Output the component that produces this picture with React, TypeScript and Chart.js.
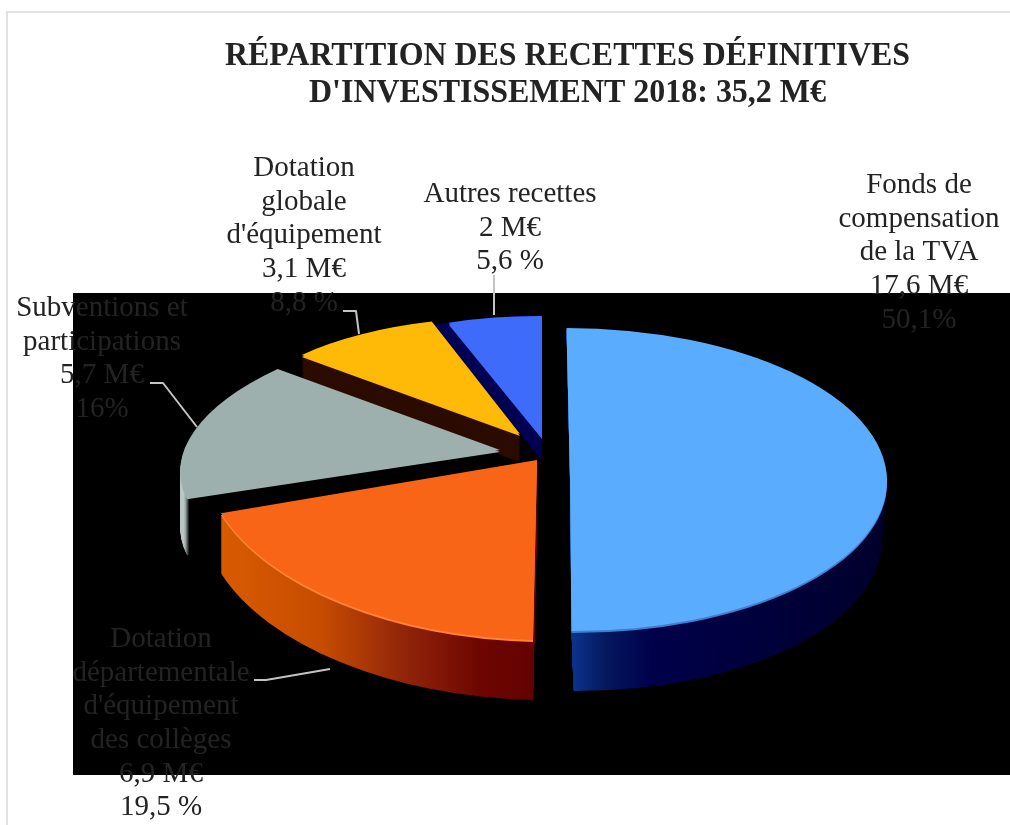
import React, { useEffect, useRef } from "react";
import { Chart, registerables } from "chart.js";

Chart.register(...registerables);

// ---- data ----
const titleLines = ["RÉPARTITION DES RECETTES DÉFINITIVES", "D'INVESTISSEMENT 2018: 35,2 M€"];
const categories = [
  "Fonds de compensation de la TVA",
  "Dotation départementale d'équipement des collèges",
  "Subventions et participations",
  "Dotation globale d'équipement",
  "Autres recettes",
];
const categoryLines = [
  ["Fonds de", "compensation", "de la TVA"],
  ["Dotation", "départementale", "d'équipement", "des collèges"],
  ["Subventions et", "participations"],
  ["Dotation", "globale", "d'équipement"],
  ["Autres recettes"],
];
const amounts = ["17,6 M€", "6,9 M€", "5,7 M€", "3,1 M€", "2 M€"];
const percentLabels = ["50,1%", "19,5 %", "16%", "8,8 %", "5,6 %"];
const shares = [50.1, 19.5, 16, 8.8, 5.6];

// ---- styling and layout ----
const topColors = ["#5aacff", "#f96516", "#9eb0ad", "#ffba08", "#3f6bfb"];
const rimColors = ["#3f7fd0", "#ff8436", "#9eb0ad", "#ffba08", "#3f6bfb"];
const drawOrder = [4, 3, 2, 1, 0];

// Per-slice projection of the flat pie (a, b, c, d as in a canvas transform; ox, oy = explode shift)
const projections = [
  { a: 1.0, b: 0, c: 0.011, d: 0.478, ox: 30, oy: 19.5, depthX: 2, depthY: 60, growA: -0.025, growD: 0 },
  { a: 1.055, b: 0.022, c: -0.006, d: 0.568, ox: -3, oy: 0, depthX: 0, depthY: 60, growA: 0, growD: 0 },
  { a: 0.999, b: -0.008, c: -0.136, d: 0.424, ox: -40, oy: -10, depthX: 0, depthY: 58, growA: 0, growD: 0 },
  { a: 0.903, b: 0.029, c: -0.035, d: 0.367, ox: -20, oy: -26, depthX: 0, depthY: 28, growA: 0, growD: 0 },
  { a: 0.853, b: 0.005, c: 0, d: 0.382, ox: 2, oy: -23, depthX: 0, depthY: 24, growA: 0.16, growD: 0.19 },
];
type Stop = [number, string];
const sideFills: { x0: number; x1: number; y: number; stops: Stop[] }[] = [
  { x0: 572, x1: 887, y: 500, stops: [[0, "#0d3088"], [0.1, "#04185e"], [0.25, "#00004a"], [1, "#00002c"]] },
  { x0: 222, x1: 534, y: 500, stops: [[0, "#d85a02"], [0.3, "#c64c00"], [0.55, "#93260a"], [0.8, "#6d0600"], [1, "#620000"]] },
  { x0: 181, x1: 189, y: 497, stops: [[0, "#b9c7c4"], [0.5, "#8d9a98"], [0.8, "#4a5251"], [1, "#000000"]] },
  { x0: 0, x1: 1010, y: 500, stops: [[0, "#2b0b00"], [1, "#2b0b00"]] },
  { x0: 0, x1: 1010, y: 500, stops: [[0, "#000052"], [1, "#000052"]] },
];

const textLayout = [
  { x: 919, y: 185.5 },
  { x: 161, y: 639.5 },
  { x: 102, y: 308.5 },
  { x: 304, y: 168.5 },
  { x: 510, y: 194.5 },
];
const leaderPaths: number[][][] = [
  [],
  [[254, 680], [266, 680], [330, 669]],
  [[150, 383], [163, 383], [197, 427]],
  [[343, 311], [356, 311], [359, 334]],
  [[494, 275], [494, 315]],
];
const LINE_HEIGHT = 33.6;
const TEXT_COLOR = "#232323";
const LABEL_FONT = '29px "Liberation Serif"';
const TITLE_FONT = 'bold 34px "Liberation Serif"';

const plainArcOptions = (fill: any) => ({
  backgroundColor: fill,
  borderColor: "transparent",
  borderWidth: 0,
  borderAlign: "center",
  borderRadius: 0,
  borderJoinStyle: "round",
  borderDash: [],
  borderDashOffset: 0,
  offset: 0,
  spacing: 0,
  circular: true,
  selfJoin: false,
});

const pie3d = {
  id: "pie3d",
  beforeDraw(chart: any) {
    const ctx = chart.ctx as CanvasRenderingContext2D;
    ctx.save();
    ctx.fillStyle = "#ffffff";
    ctx.fillRect(0, 0, chart.width, chart.height);
    ctx.fillStyle = "#e2e2e2";
    ctx.fillRect(6, 11, chart.width - 6, 2);
    ctx.fillRect(6, 11, 2, chart.height - 11);
    ctx.fillStyle = "#000000";
    ctx.fillRect(73, 293, chart.width - 73, 482);
    ctx.restore();
  },
  beforeDatasetDraw(chart: any) {
    const ctx = chart.ctx as CanvasRenderingContext2D;
    const meta = chart.getDatasetMeta(0);
    const paint = (el: any, i: number, fill: any, shiftX: number, shiftY: number, t: number) => {
      const p = projections[i];
      const saved = el.options;
      ctx.save();
      ctx.translate(el.x + p.ox + shiftX, el.y + p.oy + shiftY);
      ctx.transform(p.a * (1 + p.growA * t), p.b, p.c, p.d * (1 + p.growD * t), 0, 0);
      ctx.translate(-el.x, -el.y);
      el.options = plainArcOptions(fill);
      el.draw(ctx);
      el.options = saved;
      ctx.restore();
    };
    const sideGradient = (el: any, i: number, shiftX: number, shiftY: number) => {
      const p = projections[i];
      const s = sideFills[i];
      const det = p.a * p.d - p.b * p.c;
      const toLocal = (X: number, Y: number) => {
        const dx = X - (el.x + p.ox + shiftX);
        const dy = Y - (el.y + p.oy + shiftY);
        return [el.x + (p.d * dx - p.c * dy) / det, el.y + (-p.b * dx + p.a * dy) / det];
      };
      const [lx0, ly0] = toLocal(s.x0, s.y + shiftY);
      const [lx1, ly1] = toLocal(s.x1, s.y + shiftY);
      const g = ctx.createLinearGradient(lx0, ly0, lx1, ly1);
      s.stops.forEach(([o, c]) => g.addColorStop(o, c));
      return g;
    };
    drawOrder.forEach((i) => {
      const el = meta.data[i];
      const p = projections[i];
      for (let k = p.depthY; k >= 2; k--) {
        const t = k / p.depthY;
        const sx = p.depthX * t;
        paint(el, i, sideGradient(el, i, sx, k), sx, k, t);
      }
      paint(el, i, rimColors[i], 0, 2, 0);
      paint(el, i, topColors[i], 0, 0, 0);
    });
    return false;
  },
  afterDatasetsDraw(chart: any) {
    const ctx = chart.ctx as CanvasRenderingContext2D;
    ctx.save();
    ctx.strokeStyle = "#c4c4c4";
    ctx.lineWidth = 2;
    ctx.lineJoin = "round";
    leaderPaths.forEach((path) => {
      if (!path.length) return;
      ctx.beginPath();
      path.forEach(([x, y], n) => (n ? ctx.lineTo(x, y) : ctx.moveTo(x, y)));
      ctx.stroke();
    });
    ctx.fillStyle = TEXT_COLOR;
    ctx.textAlign = "center";
    ctx.textBaseline = "middle";
    ctx.font = LABEL_FONT;
    categoryLines.forEach((lines, i) => {
      const all = [...lines, amounts[i], percentLabels[i]];
      all.forEach((line, n) => ctx.fillText(line, textLayout[i].x, textLayout[i].y + n * LINE_HEIGHT));
    });
    ctx.font = TITLE_FONT;
    ctx.textBaseline = "alphabetic";
    ctx.fillText(titleLines[0], 567.5, 65, 685);
    ctx.fillText(titleLines[1], 567.5, 102, 517);
    ctx.restore();
  },
};

export default function App() {
  const ref = useRef<HTMLCanvasElement>(null);
  useEffect(() => {
    document.body.style.margin = "0";
    const chart = new Chart(ref.current as HTMLCanvasElement, {
      type: "pie",
      data: {
        labels: categories,
        datasets: [{ data: shares, backgroundColor: topColors, borderWidth: 0 }],
      },
      options: {
        animation: false,
        responsive: false,
        layout: { padding: { left: 223, right: 153, top: 143, bottom: 48 } },
        plugins: { legend: { display: false }, tooltip: { enabled: false } },
      },
      plugins: [pie3d],
    } as any);
    return () => chart.destroy();
  }, []);
  return <canvas ref={ref} width={1010} height={825} style={{ display: "block" }} />;
}
